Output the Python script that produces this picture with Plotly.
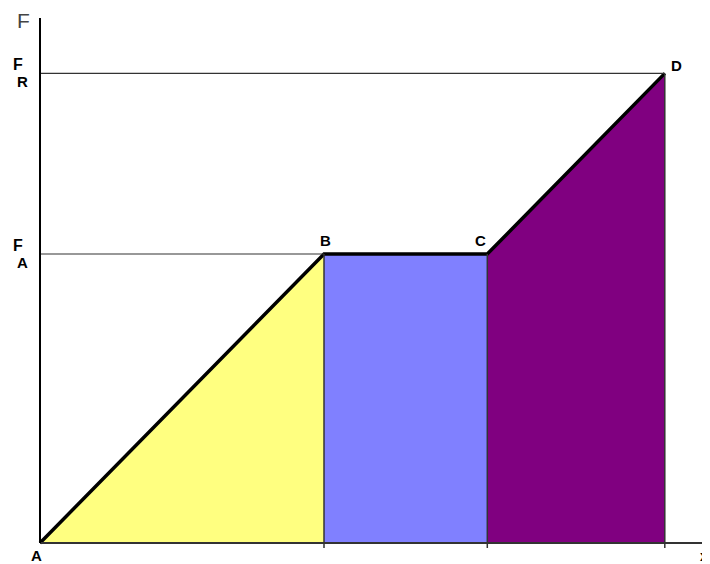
import plotly.graph_objects as go

# ---- data ----
point_names = ["A", "B", "C", "D"]
x_vals = [0.0, 4.0, 6.3, 8.8]
f_vals = [0.0, 4.0, 4.0, 6.5]
level_names = ["A", "R"]          # F_A, F_R
level_vals = [4.0, 6.5]
region_colors = ["#FFFF80", "#8080FF", "#800080"]
x_label_pos = 9.27

xA, xB, xC, xD = x_vals
fA, fB, fC, fD = f_vals

XS, YS = 71.0, 72.25          # px per unit
OX, OY = 32, 535              # origin inside figure (page has 8px body margin)
W, H = 710, 564
X_RANGE = [-OX / XS, (W - OX) / XS]
Y_RANGE = [-(H - OY) / YS, OY / YS]
Y_TOP = (OY - 10) / YS
TICK_BELOW = -5 / YS

fig = go.Figure()

regions = [
    ([xA, xB, xB, xA], [fA, fB, 0, 0]),
    ([xB, xC, xC, xB], [fB, fC, 0, 0]),
    ([xC, xD, xD, xC], [fC, fD, 0, 0]),
]
for (rx, ry), col in zip(regions, region_colors):
    fig.add_trace(go.Scatter(x=rx + [rx[0]], y=ry + [ry[0]], fill="toself",
                             fillcolor=col, mode="none", hoverinfo="skip",
                             showlegend=False))

shapes = []
shapes.append(dict(type="line", x0=0, x1=xB, y0=level_vals[0], y1=level_vals[0],
                   line=dict(color="#333333", width=1.2)))
shapes.append(dict(type="line", x0=0, x1=xD, y0=level_vals[1], y1=level_vals[1],
                   line=dict(color="#333333", width=1.2)))
for xv, fv in zip(x_vals[1:], f_vals[1:]):
    shapes.append(dict(type="line", x0=xv, x1=xv, y0=TICK_BELOW, y1=fv,
                       line=dict(color="#333333", width=1.5)))
shapes.append(dict(type="line", x0=0, x1=X_RANGE[1], y0=0, y1=0,
                   line=dict(color="#333333", width=1.8)))
shapes.append(dict(type="line", x0=0, x1=0, y0=0, y1=Y_TOP,
                   line=dict(color="#000000", width=2)))

fig.add_trace(go.Scatter(x=x_vals, y=f_vals, mode="lines",
                         line=dict(color="#000000", width=3.5),
                         hoverinfo="skip", showlegend=False))

font_b = dict(family="Liberation Sans, Arial, sans-serif", size=15, color="#000000")
ann = []
offsets = {"A": (-4, -12), "B": (1, 14), "C": (-7, 14), "D": (12, 8)}
for name, xv, fv in zip(point_names, x_vals, f_vals):
    dx, dy = offsets[name]
    ann.append(dict(x=xv, y=fv, text="<b>%s</b>" % name, showarrow=False,
                    xshift=dx, yshift=dy, font=font_b))
for sub, v in zip(level_names, level_vals):
    ann.append(dict(x=0, y=v, text="<b>F</b>", showarrow=False,
                    xshift=-22, yshift=9, font=dict(font_b, size=16)))
    ann.append(dict(x=0, y=v, text="<b>%s</b>" % sub, showarrow=False,
                    xshift=-18, yshift=-8, font=dict(font_b, size=15)))
ann.append(dict(x=0, y=Y_TOP, text="F", showarrow=False, xshift=-17, yshift=-2,
                font=dict(family="Liberation Sans, Arial, sans-serif", size=21,
                          color="#444444")))
ann.append(dict(x=x_label_pos, y=0, text="<b>x</b>", showarrow=False,
                xshift=0, yshift=-13, xanchor="left",
                font=dict(font_b, size=14)))

fig.update_layout(
    width=W, height=H,
    margin=dict(l=0, r=0, t=0, b=0),
    paper_bgcolor="white", plot_bgcolor="white",
    shapes=shapes, annotations=ann,
    xaxis=dict(range=X_RANGE, visible=False, fixedrange=True),
    yaxis=dict(range=Y_RANGE, visible=False, fixedrange=True),
    showlegend=False,
)

fig.write_html("out.html")
